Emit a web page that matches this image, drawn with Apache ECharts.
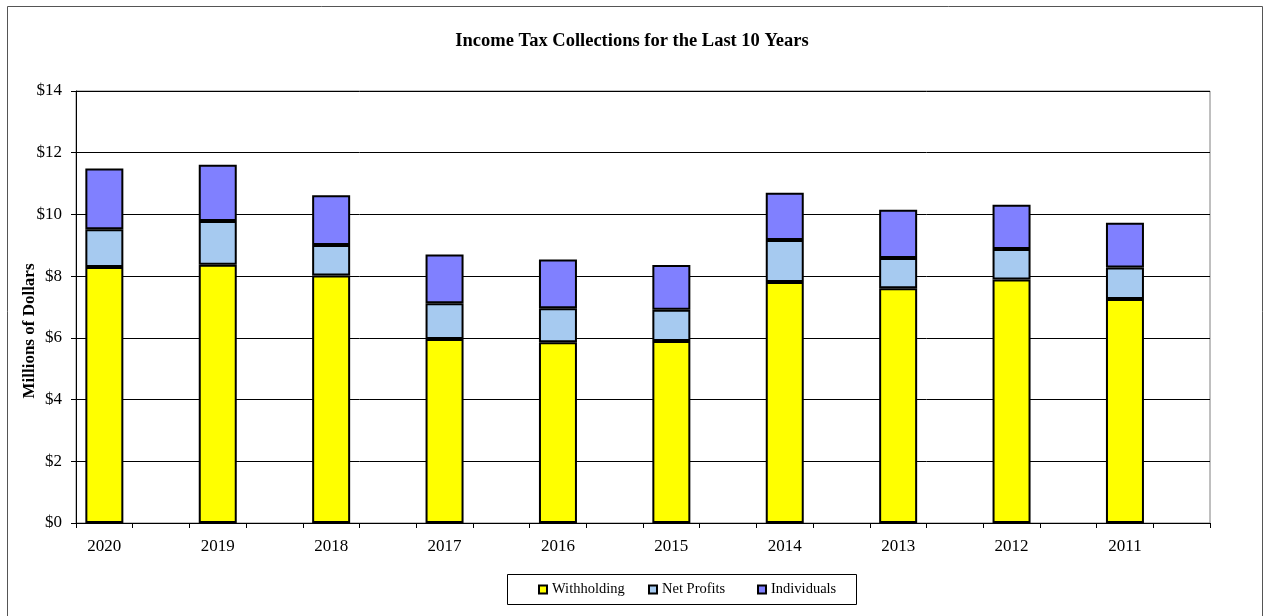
<!DOCTYPE html>
<html>
<head>
<meta charset="utf-8">
<script src="https://cdn.jsdelivr.net/npm/echarts@6/dist/echarts.min.js"></script>
<style>
html,body{margin:0;padding:0;background:#fff;}
#chart{width:1264px;height:616px;}
</style>
</head>
<body>
<div id="chart"></div>
<script>
var years = ['2020','2019','2018','2017','2016','2015','2014','2013','2012','2011'];
var withholding = [8.30, 8.37, 8.02, 5.96, 5.86, 5.90, 7.81, 7.61, 7.89, 7.26];
var netProfits  = [1.22, 1.42, 0.99, 1.16, 1.10, 1.01, 1.36, 0.98, 0.99, 1.02];
var individuals = [1.97, 1.82, 1.61, 1.58, 1.58, 1.45, 1.53, 1.56, 1.43, 1.45];
var yTicks = [0, 2, 4, 6, 8, 10, 12, 14];
var seriesNames = ['Withholding', 'Net Profits', 'Individuals'];

// each year is followed by an empty slot, as in the original chart
var cats = [], wData = [], nData = [], iData = [];
years.forEach(function (y, i) {
  cats.push(y); cats.push(' ');
  wData.push(withholding[i]); wData.push('-');
  nData.push(netProfits[i]); nData.push('-');
  iData.push(individuals[i]); iData.push('-');
});

var serif = '"Liberation Serif", "Times New Roman", serif';
var chart = echarts.init(document.getElementById('chart'), null, {renderer: 'canvas'});
var barStyle = function (c) { return {color: c, borderColor: '#000', borderWidth: 2}; };
var legendLeft = [538, 648, 757];
var legends = seriesNames.map(function (n, i) {
  return {
    left: legendLeft[i], top: 582, padding: 0,
    itemWidth: 8, itemHeight: 8, itemTextGap: 1,
    icon: 'rect',
    textStyle: {fontFamily: serif, fontSize: 14.5, color: '#000'},
    data: [n]
  };
});

chart.setOption({
  animation: false,
  backgroundColor: '#fff',
  title: {
    text: 'Income Tax Collections for the Last 10 Years',
    left: 'center', top: 27,
    textStyle: {fontFamily: serif, fontWeight: 'bold', fontSize: 18.5, color: '#000'}
  },
  legend: legends,
  grid: {
    left: 76, right: 54, top: 91, bottom: 93,
    show: true, borderColor: '#808080', borderWidth: 1
  },
  graphic: [{
    type: 'rect', silent: true, z: -1,
    shape: {x: 7.5, y: 6.5, width: 1255, height: 640},
    style: {fill: 'none', stroke: '#555', lineWidth: 1}
  }, {
    type: 'rect', silent: true, z: -1,
    shape: {x: 507.5, y: 574.5, width: 349, height: 30},
    style: {fill: 'none', stroke: '#000', lineWidth: 1}
  }, {
    type: 'text', silent: true,
    x: 30, y: 331, rotation: Math.PI / 2,
    style: {text: 'Millions of Dollars', fill: '#000', font: 'bold 17px ' + serif,
      textAlign: 'center', textVerticalAlign: 'middle'}
  }],
  xAxis: {
    type: 'category',
    data: cats,
    boundaryGap: true,
    axisLine: {lineStyle: {color: '#000', width: 1}},
    axisTick: {show: true, interval: 0, length: 5, lineStyle: {color: '#000'}},
    axisLabel: {interval: 0, margin: 15, fontFamily: serif, fontSize: 17, color: '#000'},
    splitLine: {show: false}
  },
  yAxis: [{
    type: 'value',
    min: yTicks[0], max: yTicks[yTicks.length - 1], interval: 2,
    axisLine: {show: true, lineStyle: {color: '#000', width: 1}},
    axisTick: {show: true, length: 5, lineStyle: {color: '#000'}},
    axisLabel: {margin: 14, fontFamily: serif, fontSize: 17, color: '#000',
      formatter: function (v) { return '$' + v; }},
    splitLine: {show: true, lineStyle: {color: '#000', width: 1}}
  }, {
    type: 'value',
    min: yTicks[0], max: yTicks[yTicks.length - 1], interval: 2,
    position: 'left',
    axisLine: {show: false},
    axisTick: {show: true, inside: true, length: 5, lineStyle: {color: '#000'}},
    axisLabel: {show: false},
    splitLine: {show: false}
  }],
  series: [
    {name: seriesNames[0], type: 'bar', stack: 'tax', data: wData, barWidth: 38,
     itemStyle: barStyle('#FFFF00')},
    {name: seriesNames[1], type: 'bar', stack: 'tax', data: nData, barWidth: 38,
     itemStyle: barStyle('#A6CAF0')},
    {name: seriesNames[2], type: 'bar', stack: 'tax', data: iData, barWidth: 38,
     itemStyle: barStyle('#8080FF')}
  ]
});
</script>
</body>
</html>
